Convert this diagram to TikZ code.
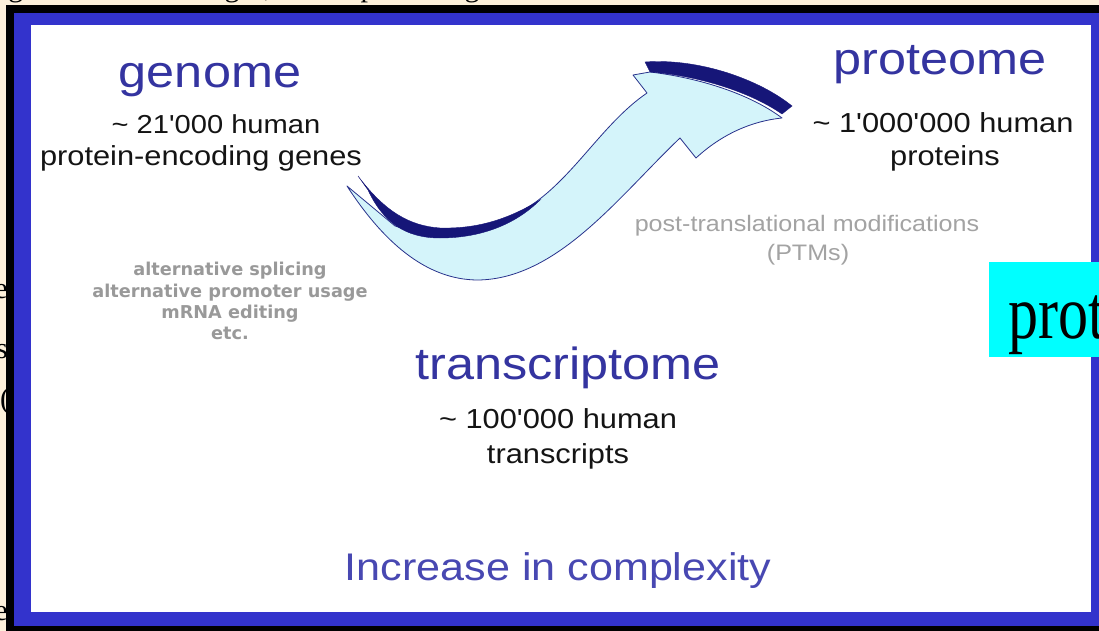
\documentclass[tikz,border=0pt]{standalone}
\usepackage{fontspec}
\setmainfont{Liberation Serif}
\newfontfamily\slidefont[FakeStretch=1.12]{Liberation Sans}
\newfontfamily\notefont{DejaVu Sans}
\newfontfamily\boxfont[FakeStretch=0.79]{Liberation Serif}

\definecolor{slidecream}{RGB}{253,240,218}
\definecolor{frameblue}{RGB}{51,51,204}
\definecolor{omicsblue}{RGB}{52,52,160}
\definecolor{trendblue}{RGB}{72,72,178}
\definecolor{ribbonface}{RGB}{212,244,250}
\definecolor{ribbonback}{RGB}{22,22,120}
\definecolor{ribbonline}{RGB}{40,50,140}
\definecolor{labelcyan}{RGB}{0,255,255}

\begin{document}
\begin{tikzpicture}[x=1pt, y=-1pt,
    omics/.style={anchor=base, inner sep=0pt, text=omicsblue,
                  font=\slidefont\fontsize{45}{50}\selectfont},
    count/.style={anchor=base, inner sep=0pt, text=black!92,
                  font=\slidefont\fontsize{27.5}{30}\selectfont},
    note/.style={anchor=base, inner sep=0pt, text=black!40,
                 font=\notefont\bfseries\fontsize{17.7}{20}\selectfont},
    ptmnote/.style={anchor=base, inner sep=0pt, text=black!36,
                    font=\slidefont\fontsize{22.4}{24}\selectfont},
    trend/.style={anchor=base, inner sep=0pt, text=trendblue,
                  font=\slidefont\fontsize{38.5}{42}\selectfont},
    cutoff/.style={inner sep=0pt, text=black, font=\fontsize{30}{34}\selectfont},
    arrowface/.style={fill=ribbonface, draw=ribbonline, line width=0.8pt, line join=round},
    arrowback/.style={fill=ribbonback, draw=ribbonback, line width=0.4pt}
]
\useasboundingbox (0,0) rectangle (1099,631);

%% Slide background and frame %%
\fill[slidecream] (0,0) rectangle (1099,631);
\fill[black]      (6,5) rectangle (1099,631);
\fill[frameblue]  (14,13) rectangle (1099,626);
\fill[white]      (31,25) rectangle (1091,612);

% Letters of the slide text, cut by the frame
\begin{scope}
  \clip (0,0) rectangle (6,631);
  \node[cutoff, anchor=base east] (cutA) at (8,298) {e};
  \node[cutoff, anchor=base east] (cutB) at (8,358) {s};
  \node[cutoff, anchor=base west] (cutC) at (0,408) {(};
  \node[cutoff, anchor=base east] (cutD) at (8,620) {e};
\end{scope}
\begin{scope}
  \clip (0,0) rectangle (1099,5);
  \node[cutoff, anchor=base] (topA) at (16,-3)  {g};
  \node[cutoff, anchor=base] (topB) at (232,-3) {g};
  \node[cutoff, anchor=base] (topC) at (268,-3) {,};
  \node[cutoff, anchor=base] (topD) at (368,-3) {p};
  \node[cutoff, anchor=base] (topE) at (472,-3) {g};
\end{scope}

%% Curved ribbon arrow %%
\path[arrowface] (347,186)
  .. controls (382,240) and (425,280) .. (478,280)
  .. controls (558,279) and (620,195) .. (680,138)
  -- (696,158)
  .. controls (722,134) and (752,121) .. (782,118)
  .. controls (750,94) and (700,78) .. (650,72)
  -- (633,75) -- (647,93)
  .. controls (600,125) and (570,185) .. (520,212)
  .. controls (480,232) and (430,238) .. (395,226)
  -- cycle;
% dark back side near the tail
\path[arrowback] (358,176)
  .. controls (385,212) and (410,226) .. (440,228)
  .. controls (480,229) and (510,218) .. (540,200)
  .. controls (515,225) and (480,238) .. (440,238)
  .. controls (405,238) and (383,222) .. (368,190) -- cycle;
% dark back side on the head
\path[arrowback] (645,62)
  .. controls (700,58) and (760,80) .. (792,106)
  -- (782,114)
  .. controls (750,92) and (700,76) .. (650,72) -- cycle;

%% Genome %%
\node[omics] (gen)      at (210,88)  {genome};
\node[count, font=\slidefont\fontsize{26}{30}\selectfont]
             (genN)     at (216,134) {\char`\~\ 21'000 human};
\node[count] (genWhat)  at (201,165) {protein-encoding genes};

%% Proteome %%
\node[omics] (prot)     at (940,75)  {proteome};
\node[count] (protN)    at (943,133) {\char`\~\ 1'000'000 human};
\node[count] (protWhat) at (945,166) {proteins};

%% Transcriptome %%
\node[omics] (trans)     at (568,379) {transcriptome};
\node[count] (transN)    at (558,428) {\char`\~\ 100'000 human};
\node[count] (transWhat) at (558,463) {transcripts};

% Mechanisms (gray)
\node[note] (splice)  at (230,275) {alternative splicing};
\node[note] (promo)   at (230,297) {alternative promoter usage};
\node[note] (edit)    at (230,318) {mRNA editing};
\node[note] (etc)     at (230,339) {etc.};
\node[ptmnote] (ptm)  at (807,231) {post-translational modifications};
\node[ptmnote] (ptmS) at (808,260) {(PTMs)};

%% Bottom line %%
\node[trend] (trend) at (558,580) {Increase in complexity};

% Cyan label box at the right edge
\fill[labelcyan] (989,262) rectangle (1099,357);
\begin{scope}
  \clip (989,262) rectangle (1099,357);
  \node[anchor=base west, inner sep=0pt, font=\boxfont\fontsize{76}{80}\selectfont]
    (protCut) at (1008,338) {prot};
\end{scope}

\end{tikzpicture}
\end{document}
